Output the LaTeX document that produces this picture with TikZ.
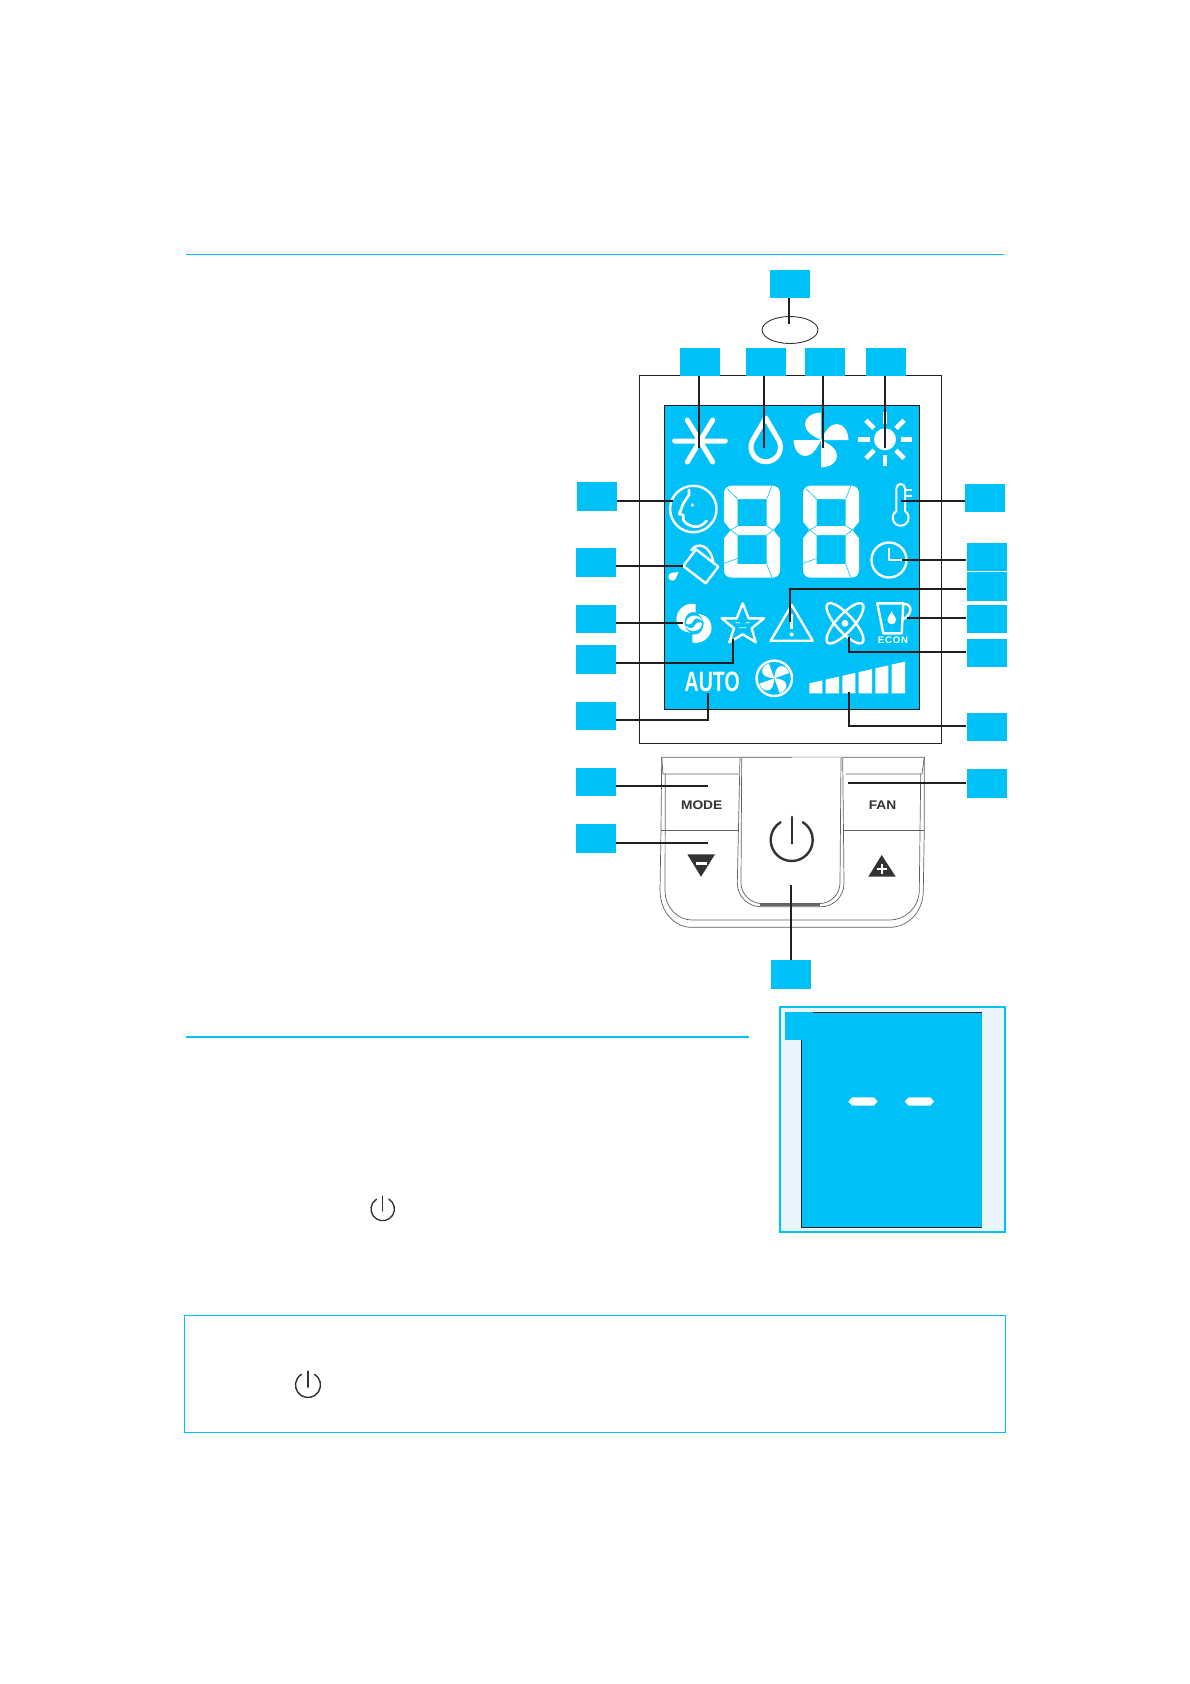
\documentclass[tikz,border=0pt]{standalone}
\usepackage{fontspec}
\setmainfont{Liberation Sans}
\usetikzlibrary{calc}
\definecolor{lcdblue}{HTML}{00C1F7}
\definecolor{paleblue}{HTML}{E8F5FD}
\definecolor{leadgray}{HTML}{231F20}
\definecolor{keygray}{HTML}{333333}
\tikzset{
  tag/.style={fill=lcdblue,minimum width=40pt,minimum height=28.5pt,inner sep=0pt},
  lead/.style={line width=1.7pt,color=leadgray},
  icon/.style={white,line width=2.4pt,line join=round},
  keyline/.style={line width=0.7pt,color=black!62},
  rule/.style={lcdblue,line width=1.3pt},
  keytext/.style={text=keygray,font=\fontsize{12.5}{12.5}\selectfont\bfseries,inner sep=0pt,transform shape,xscale=1.1},
  pics/powericon/.style={code={
    \draw[keygray,line width=#1*0.115pt,line cap=round] (0,-#1*1.1) -- (0,#1*0.17);
    \draw[keygray,line width=#1*0.115pt,line cap=round] (58:#1 pt) arc[start angle=58,end angle=-238,radius=#1 pt];
  }},
  pics/fanblades/.style={code={
    \foreach \bladeturn in {0,90,180,270}
      \fill[white,rotate=\bladeturn,scale=#1] (0,0) -- (27.5,0) .. controls (27,-10) and (22,-16) .. (16,-16) .. controls (10,-16) and (5,-11) .. (0,0) -- cycle;
  }},
  pics/lcddigit/.style={code={
    \fill[white,even odd rule,rounded corners=0pt]
      (8,0) -- (48,0) .. controls (53,0) and (56,3) .. (56,8) -- (56,36) -- (49.3,44.3) -- (56,52.7) -- (56,84) .. controls (56,89) and (53,92) .. (48,92)
      -- (8,92) .. controls (3,92) and (0,89) .. (0,84) -- (0,52.7) -- (6.7,44.3) -- (0,36) -- (0,8) .. controls (0,3) and (3,0) .. (8,0) -- cycle
      (13.7,13.3) rectangle (42.7,40.3) (13.7,49.5) rectangle (42.7,78.3);
    \draw[lcdblue,line width=0.6pt] (42.7,13.3) -- (47.7,0.5) (13.7,13.3) -- (3,3)
      (6.7,44.3) -- (13.7,40.3) (6.7,44.3) -- (13.7,49.5) (49.3,44.3) -- (42.7,40.3) (49.3,44.3) -- (42.7,49.5)
      (13.7,72.7) -- (0,77.7) (42.7,78.3) -- (47.7,91.5);
  }},
}
\begin{document}
\begin{tikzpicture}[x=1pt,y=-1pt]
  \useasboundingbox (0,0) rectangle (1190,1684);

  % Rules and note frame
  \draw[rule] (186,254.5) -- (1004,254.5);
  \draw[rule] (186,1037) -- (748.5,1037);
  \draw[lcdblue,line width=0.9pt] (184.3,1315.7) rectangle (1005.5,1432.3);

  % Sensor and housing
  \draw[keygray,line width=0.9pt] (790,330) ellipse[x radius=28pt,y radius=13.5pt];
  \draw[leadgray,line width=1.1pt] (639.3,375.5) rectangle (941.7,743.3);
  \draw[leadgray,line width=1pt,fill=lcdblue] (664.3,405.3) rectangle (919.7,709.3);

  % Top row icons
  \draw[white,line width=5pt,line cap=round] (674.7,441) -- (725.3,441) (687.3,420) -- (712.7,462) (712.7,420) -- (687.3,462);
  \draw[white,line width=5pt,line join=round] (765.7,418) -- (752.4,440.8) arc[start angle=155,end angle=385,radius=14.7pt] -- cycle;
  \pic at (821,440) {fanblades=1};
  \fill[white] (885,439.3) circle[radius=11pt];
  \foreach \rayangle in {0,45,...,315}
    \draw[white,line width=4.6pt,shift={(885,439.3)},rotate=\rayangle] (15.5,0) -- (27,0);

  % Digits
  \pic at (724,485.7) {lcddigit};
  \pic at (803,485.7) {lcddigit};

  % Face
  \draw[icon] (693.3,509) circle[radius=23.2pt];
  \draw[icon,line width=2.6pt,line cap=round] (689,490) -- (689,495) -- (683.3,503.3) -- (679.3,514) -- (683.3,515) -- (683.3,520) .. controls (685,524) and (692,527) .. (696.7,526.7) .. controls (700,526.5) and (704,524) .. (706.7,520.7);
  \fill[white] (692.3,505) circle[radius=1.8pt];

  % Bucket
  \draw[icon] (683.3,566) -- (705.7,583.3) -- (718.3,566.7) -- (696,549.3) -- cycle;
  \draw[icon] (691,550.7) .. controls (697,541) and (711,545) .. (713.3,563);
  \fill[white] (678.5,572) -- (671.6,572.8) arc[start angle=100,end angle=320,radius=4pt] -- cycle;

  % Thermometer and clock
  \draw[icon,line width=2pt] (905,511) -- (905,488.5) .. controls (905,482.5) and (896.4,482.5) .. (896.4,488.5) -- (896.4,511) arc[start angle=122.5,end angle=417.5,radius=8pt] -- cycle;
  \draw[icon,line width=2pt] (905,490) -- (911.7,490) (905,495.7) -- (911.7,495.7) (905,500.7) -- (911.7,500.7);
  \draw[icon] (889,560) circle[radius=17.5pt];
  \draw[icon] (889,548.3) -- (889,560) -- (902.3,560);

  % Swing
  \foreach \swirlturn in {0,180} {
    \fill[white,shift={(694,623.3)},rotate=\swirlturn] (1.7,-19.3) .. controls (-10.7,-21.7) and (-20.7,-10) .. (-16.7,0) .. controls (-15,6) and (-10.7,8.3) .. (-4,9.5) .. controls (-10,5) and (-11.5,-2) .. (-7.5,-7.5) .. controls (-5,-11) and (-2.3,-11.5) .. (1.7,-11) -- cycle;
    \fill[white,shift={(694,623.3)},rotate=\swirlturn] (-8,0) .. controls (-8,-9) and (6,-11) .. (8.5,-2) .. controls (5,-6) and (0,-6) .. (-1.5,-1) .. controls (-2.5,1) and (-6.5,2) .. (-8,0) -- cycle;
  }

  % Star
  \draw[icon] (742.7,603.3) -- (748.7,618.3) -- (764,618.3) -- (751.7,628.3) -- (755.7,642.3) -- (742.7,634.3) -- (729.3,642.3) -- (734,628.3) -- (721.7,618.3) -- (736.7,618.3) -- cycle;
  \draw[white,line width=0.8pt] (735.7,622.5) -- (740,623) (745.5,623) -- (749.5,622.5) (739,627.7) -- (746,627.7);

  % Warning
  \draw[icon] (791.7,605) -- (812.7,640.7) -- (770.7,640.7) -- cycle;
  \draw[white,line width=2.6pt] (791.7,614) -- (791.7,629);
  \fill[white] (791.7,634.5) circle[radius=2pt];

  % Ion
  \draw[icon] (845,623.3) ellipse[x radius=26pt,y radius=8.5pt,rotate=48];
  \draw[icon] (845,623.3) ellipse[x radius=26pt,y radius=8.5pt,rotate=-48];
  \fill[white] (845,623.3) circle[radius=3.4pt];

  % Kettle
  \draw[icon] (877.3,603.3) -- (903.3,603.3) -- (901.7,633.3) -- (883.3,633.3) -- cycle;
  \draw[icon] (903.3,604) .. controls (912,603) and (914,614) .. (902,620);
  \fill[white] (891.7,611) .. controls (893,615) and (896,617) .. (896,620) arc[start angle=0,end angle=-180,radius=4.3pt] .. controls (887.4,617) and (890.4,615) .. (891.7,611) -- cycle;
  \node[text=white,font=\fontsize{9.6}{9.6}\selectfont\bfseries\addfontfeature{LetterSpace=8},inner sep=0pt] (econ) at (893,640.4) {ECON};

  % Bottom row of the screen
  \node[text=white,font=\fontsize{28}{28}\selectfont\bfseries,inner sep=0pt,transform shape,xscale=0.7] (auto) at (712.2,681.7) {AUTO};
  \draw[icon] (774.3,678.3) circle[radius=17.7pt];
  \pic[rotate=20] at (774.3,678.3) {fanblades=0.58};
  \foreach \barleft/\barright/\topleft/\topright in {809.3/822.3/683.3/680.4,825.7/839/679.6/676.6,842.3/855.3/675.8/672.9,858.7/872/672.1/669.1,875.3/888.3/668.3/665.4,891.7/905/664.6/661.6}
    \fill[white] (\barleft,693.3) -- (\barleft,\topleft) -- (\barright,\topright) -- (\barright,693.3) -- cycle;

  % Keypad
  \draw[keyline,fill=white] (661.7,757.3) -- (661,830) -- (660,890) .. controls (660,915) and (678,927.3) .. (690,927.3) -- (890,927.3) .. controls (905,927.3) and (923.3,915) .. (923.3,890) -- (924.3,830) -- (924.3,757.3) -- cycle;
  \draw[keyline] (665.3,774) -- (665,890) .. controls (665,908) and (678,920) .. (692,920) -- (890,920) .. controls (905,920) and (919,908) .. (919.3,890) -- (920.7,774);
  \draw[keyline] (661.7,757.3) -- (663,774) -- (738.5,774) (741.5,774) -- (843,774) (846,774) -- (922,774) -- (924.3,757.3);
  \draw[keyline] (661,830.5) -- (738,830.5) (843.5,830.5) -- (924,830.5);
  \draw[keyline,fill=white] (740,757.3) -- (737.3,883) .. controls (737.3,898) and (750,906.7) .. (760,906.7) -- (822,906.7) .. controls (832,906.7) and (844,898) .. (844,883) -- (842.7,757.3);
  \draw[keyline] (741.7,757.3) -- (741,883) .. controls (741,895) and (752,903.5) .. (761,903.5) -- (820,903.5) .. controls (830,903.5) and (840,895) .. (840,883) -- (841,757.3);
  \draw[black!60,line width=1.4pt] (760,905) -- (820,905);
  \draw[black!45,line width=1.2pt] (740,757.8) -- (792,757.8);
  \node[keytext] (modekey) at (701.7,804.7) {MODE};
  \node[keytext] (fankey) at (882.5,805) {FAN};
  \fill[keygray] (687.3,854.3) -- (715,854.3) -- (701,876.7) -- cycle;
  \fill[white] (695.7,862) rectangle (707.3,865);
  \fill[keygray] (868.3,876.7) -- (895.7,876.7) -- (881.7,855) -- cycle;
  \draw[white,line width=2pt] (876.7,869) -- (886.7,869) (881.7,864) -- (881.7,874);
  \pic at (791.7,840) {powericon=21};

  % Small power marks
  \pic at (382.7,1209) {powericon=11.7};
  \pic at (308,1385) {powericon=12.5};

  % Inset
  \draw[lcdblue,line width=1.8pt,fill=paleblue] (780,1006.7) rectangle (1005,1232);
  \fill[lcdblue] (801.3,1012.3) rectangle (982,1227.3);
  \draw[leadgray,line width=0.8pt] (982,1012.3) -- (801.3,1012.3) -- (801.3,1227.3) -- (982,1227.3);
  \foreach \dashx in {848.3,904.7}
    \fill[white] (\dashx,1101.5) -- (\dashx+4,1097.3) -- (\dashx+25.5,1097.3) -- (\dashx+29.4,1101.5) -- (\dashx+25.5,1105.7) -- (\dashx+4,1105.7) -- cycle;
  \node[tag,minimum width=28pt] (tagInset) at (799,1026) {};

  % Tags
  \node[tag] (tagSensor) at (790,284) {};
  \node[tag] (tagCool) at (700,362) {};
  \node[tag] (tagDry) at (765.5,362) {};
  \node[tag] (tagFan) at (824.5,362) {};
  \node[tag] (tagHeat) at (886,362) {};
  \node[tag] (tagFace) at (597,496.5) {};
  \node[tag] (tagBucket) at (596,562.5) {};
  \node[tag] (tagSwing) at (596,619) {};
  \node[tag] (tagStar) at (596,659.3) {};
  \node[tag] (tagAuto) at (596,716) {};
  \node[tag] (tagMode) at (596,782) {};
  \node[tag] (tagDown) at (596,838.5) {};
  \node[tag] (tagTemp) at (985,498) {};
  \node[tag] (tagClock) at (986.5,557) {};
  \node[tag] (tagWarn) at (986.5,586.7) {};
  \node[tag] (tagEcon) at (986.5,619) {};
  \node[tag] (tagIon) at (986.5,653) {};
  \node[tag] (tagSpeed) at (986.5,727) {};
  \node[tag] (tagFanKey) at (986.5,783.5) {};
  \node[tag] (tagPower) at (791,974.5) {};

  % Lead ends
  \coordinate (tipSensor) at (789,324);
  \coordinate (tipCool) at (698.7,448);
  \coordinate (tipDry) at (764,448);
  \coordinate (tipFan) at (823,448);
  \coordinate (tipHeat) at (885,448);
  \coordinate (tipFace) at (673,500.7);
  \coordinate (tipBucket) at (683,566);
  \coordinate (tipSwing) at (683,623);
  \coordinate (kneeStar) at (733.3,662.7);
  \coordinate (tipStar) at (733.3,639.3);
  \coordinate (kneeAuto) at (708,719.7);
  \coordinate (tipAuto) at (708,693.3);
  \coordinate (tipMode) at (707.7,785.7);
  \coordinate (tipDown) at (707.7,842.7);
  \coordinate (tipTemp) at (901,500.7);
  \coordinate (tipClock) at (902.3,560);
  \coordinate (kneeWarn) at (790,588.7);
  \coordinate (tipWarn) at (790,621.7);
  \coordinate (tipEcon) at (906.7,617.7);
  \coordinate (kneeIon) at (848.7,652);
  \coordinate (tipIon) at (848.7,636.7);
  \coordinate (kneeSpeed) at (848.7,726);
  \coordinate (tipSpeed) at (848.7,692.3);
  \coordinate (tipFanKey) at (848,782.7);
  \coordinate (tipPower) at (790.7,885);

  % Leads
  \draw[lead] (tagSensor.south -| tipSensor) -- (tipSensor);
  \draw[lead] (tagCool.south -| tipCool) -- (tipCool);
  \draw[lead] (tagDry.south -| tipDry) -- (tipDry);
  \draw[lead] (tagFan.south -| tipFan) -- (tipFan);
  \draw[lead] (tagHeat.south -| tipHeat) -- (tipHeat);
  \draw[lead] (tagFace.east |- tipFace) -- (tipFace);
  \draw[lead] (tagBucket.east |- tipBucket) -- (tipBucket);
  \draw[lead] (tagSwing.east |- tipSwing) -- (tipSwing);
  \draw[lead] (tagStar.east |- kneeStar) -- (kneeStar) -- (tipStar);
  \draw[lead] (tagAuto.east |- kneeAuto) -- (kneeAuto) -- (tipAuto);
  \draw[lead] (tagMode.east |- tipMode) -- (tipMode);
  \draw[lead] (tagDown.east |- tipDown) -- (tipDown);
  \draw[lead] (tagTemp.west |- tipTemp) -- (tipTemp);
  \draw[lead] (tagClock.west |- tipClock) -- (tipClock);
  \draw[lead] (tagWarn.west |- kneeWarn) -- (kneeWarn) -- (tipWarn);
  \draw[lead] (tagEcon.west |- tipEcon) -- (tipEcon);
  \draw[lead] (tagIon.west |- kneeIon) -- (kneeIon) -- (tipIon);
  \draw[lead] (tagSpeed.west |- kneeSpeed) -- (kneeSpeed) -- (tipSpeed);
  \draw[lead] (tagFanKey.west |- tipFanKey) -- (tipFanKey);
  \draw[lead] (tagPower.north -| tipPower) -- (tipPower);
\end{tikzpicture}
\end{document}
